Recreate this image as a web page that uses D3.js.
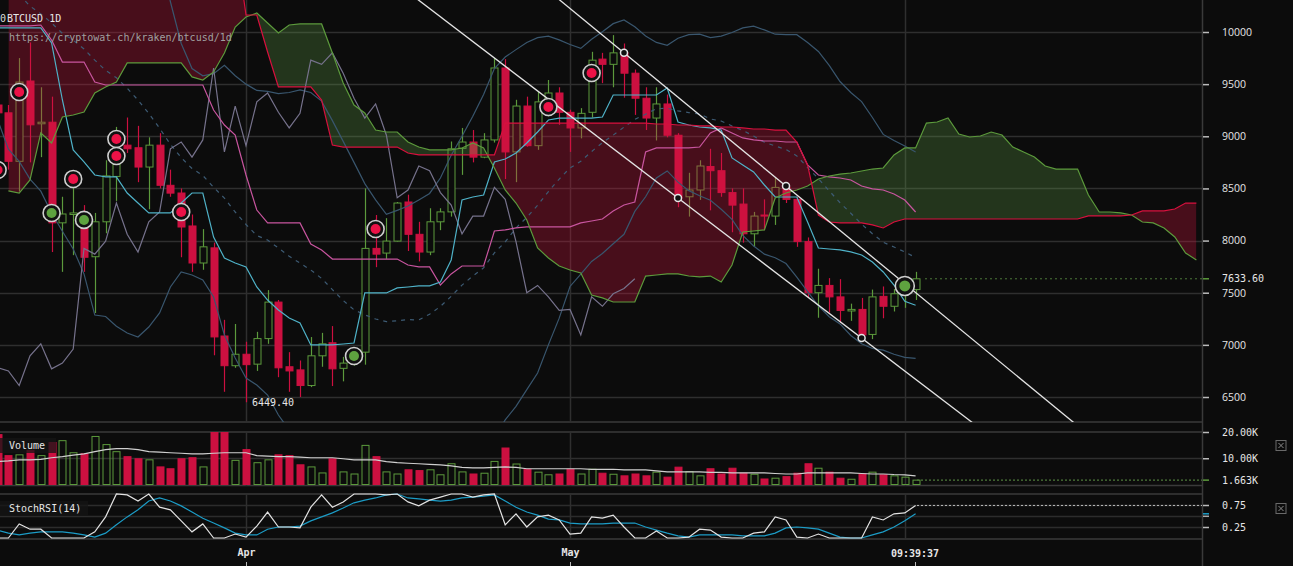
<!DOCTYPE html>
<html>
<head>
<meta charset="utf-8">
<title>BTCUSD 1D</title>
<script src="https://cdn.jsdelivr.net/npm/d3@7"></script>
<style>
  body { margin: 0; background: #0c0c0c; overflow: hidden; }
  .mono { font-family: "DejaVu Sans Mono", monospace; font-size: 10px; fill: #e6e6e6; }
  .axis text { font-family: "DejaVu Sans Mono", monospace; font-size: 10px; fill: #e6e6e6; }
  .axis.price text { font-family: "Open Sans", sans-serif; font-size: 10.5px; }
  .axis .domain { display: none; }
</style>
</head>
<body>
<svg id="chart" width="1293" height="566"></svg>
<script>
// ---- data (daily, first candle = 2018-03-09) ----
var openP = [9300,9225,8760,9530,9120,9135,8170,8250,8200,7845, 8180,8615,8915,8890,8705,8915,8530,8456,8140,7785,
  7930,7085,6800,6910,6815,7060,7410,6790,6760,6610, 6895,7020,6775,6830,6930,7925,7880,7995,8370,8060,
  7890,8180,8275,8885,8945,8800,8965,9655,8850,9290, 8910,9330,9415,9230,9080,9230,9740,9690,9800,9605,
  9365,9175,9310,9010,8420,8485,8710,8670,8460,8350, 8065,8245,8235,8510,8395,7990,7500,7570,7460,7325,
  7340,7100,7465,7370,7490,7530];
var highP = [9450,9300,9750,9900,9470,9380,8420,8600,8340,8265, 8770,9090,9180,9100,8990,9030,8680,8500,8250,8110,
  7980,7240,7200,7030,7125,7525,7430,6930,6850,7075, 7115,7180,6885,6970,8500,8245,8215,8370,8440,8180,
  8310,8310,8950,9080,9060,9030,9750,9740,9350,9380, 9430,9540,9470,9255,9270,9810,9800,9970,9890,9640,
  9470,9470,9400,9030,8650,8770,8880,8840,8500,8500, 8275,8395,8600,8560,8420,8030,7730,7640,7630,7395,
  7450,7530,7560,7535,7610,7700];
var lowP = [8350,8680,8470,8750,8800,7890,7700,7860,7700,7305, 8070,8380,8840,8560,8300,8500,8420,7840,7700,7720,
  6900,6550,6780,6449.4,6750,7010,6690,6550,6500,6595, 6790,6605,6650,6800,6810,7745,7825,7990,7900,7800,
  7860,8100,8230,8630,8750,8790,8940,8590,8560,8900, 8870,9190,9110,8850,8980,9180,9510,9470,9370,9205,
  9060,8960,8990,8320,8230,8390,8290,8420,8080,7980, 7940,8100,8150,8360,7940,7450,7260,7310,7210,7230,
  7065,7055,7255,7320,7355,7430];
var closeP = [9225,8760,9520,9110,9135,8170,8255,8265,7840,8180, 8620,8880,8880,8705,8915,8530,8455,8130,7785,7940,
  7076,6800,6910,6810,7060,7410,6780,6750,6610,6895, 7010,6770,6825,6960,7925,7870,7995,8360,8060,7890,
  8180,8275,8880,8945,8800,8965,9655,8850,9290,8910, 9330,9415,9230,9080,9220,9730,9690,9800,9605,9365,
  9175,9310,9010,8410,8485,8715,8670,8460,8340,8065, 8235,8235,8510,8395,7990,7500,7570,7460,7330,7340,
  7095,7460,7370,7490,7540,7633.6];

var tenkan = [10040,10040,10040,10040,10040,9895,9348,8869,8754,8629, 8610,8610,8456,8360,8265,8265,8265,8360,8456,8456,
  8034,7833,7785,7747,7555,7430,7334,7257,7210,6999, 6999,6999,7008,7018,7498,7498,7498,7546,7555,7565,
  7565,7603,7814,8389,8418,8437,8754,8782,8840,8936, 9041,9156,9175,9175,9175,9175,9185,9396,9396,9396,
  9396,9396,9463,9137,9108,9089,9080,9060,8792,8725, 8658,8533,8418,8418,8418,8178,7929,7919,7910,7891,
  7862,7795,7699,7574,7418,7380];
var kijun = [10058,10058,10058,10058,10067,9923,9712,9712,9712,9521, 9492,9492,9492,9492,9492,9492,9492,9492,9492,9492,
  9252,9108,9012,8629,8293,8169,8169,8169,8169,7967, 7910,7823,7823,7823,7823,7823,7823,7823,7766,7747,
  7747,7574,7680,7756,7756,7756,8092,8102,8121,8131, 8131,8131,8131,8131,8169,8188,8207,8284,8341,8370,
  8849,8888,8888,8888,8888,8897,9032,9080,9032,8984, 8965,8955,8955,8945,8945,8725,8629,8610,8600,8581,
  8523,8495,8485,8447,8389,8274];
// lagging span, plotted 26 days back (starts at first candle)
var chikou = [6780,6750,6610,6895,7010,6770,6825,6960,7925,7870, 7995,8360,8060,7890,8180,8275,8880,8945,8800,8965,
  9655,8850,9290,8910,9330,9415,9230,9080,9220,9730, 9690,9800,9605,9365,9175,9310,9010,8410,8485,8715,
  8670,8460,8340,8065,8235,8235,8510,8395,7990,7500, 7570,7460,7330,7340,7095,7460,7370,7490,7540,7633.6];
// cloud spans, first value on day index 1, last one 26 days past the last candle
var senkouA = [8476,8456,8581,9032,8936,9185,9204,9233,9415,9473, 9521,9703,9703,9703,9703,9703,9703,9569,9540,9617,
  9799,10048,10144,10182,10086,9991,10067,10077,10077,10077, 9799,9511,9300,9223,9060,9041,9041,8945,8897,8869,
  8869,8869,8888,8936,8888,8696,8485,8360,8198,7929, 7833,7756,7718,7689,7478,7450,7411,7411,7411,7660,
  7670,7680,7680,7660,7651,7660,7603,7766,8082,8092, 8102,8408,8456,8485,8523,8591,8619,8638,8648,8667,
  8686,8696,8821,8888,8888,9127,9137,9175,9022,8993, 9003,9041,9012,8897,8849,8802,8715,8686,8686,8686,
  8437,8274,8274,8265,8245,8178,8169,8121,8034,7881, 7814];
var senkouB = [10900,10900,10900,10900,10900,10900,10900,10900,10900,10900, 10900,10900,10900,10900,10900,10900,10900,10900,10900,10900,
  10900,10900,10163,10163,9808,9473,9473,9473,9473,9348, 8916,8897,8897,8897,8897,8897,8897,8840,8821,8821,
  8821,8821,8821,8821,8821,8821,9127,9127,9127,9127, 9127,9127,9127,9127,9127,9127,9127,9127,9127,9127,
  9118,9118,9108,9108,9099,9099,9089,9089,9080,9070, 9070,9060,9060,8945,8725,8245,8178,8169,8169,8169,
  8150,8121,8178,8207,8207,8207,8207,8207,8207,8207, 8207,8207,8207,8207,8207,8207,8207,8207,8207,8207,
  8236,8236,8236,8236,8245,8284,8284,8284,8303,8360, 8360];

var sma20 = [10514,10437,10359,10249,10174,10087,9987,9921,9837,9730, 9632,9561,9461,9347,9219,9077,8923,8795,8691,8624,
  8511,8407,8274,8154,8048,8005,7929,7850,7784,7718, 7637,7530,7425,7336,7288,7248,7223,7231,7242,7239,
  7294,7368,7466,7573,7660,7738,7882,7987,8121,8222, 8338,8470,8590,8696,8761,8854,8939,9011,9088,9162,
  9212,9264,9270,9243,9227,9215,9166,9146,9099,9057, 9002,8943,8907,8873,8812,8700,8594,8477,8363,8262,
  8158,8066,7984,7938,7891,7837];
var bbUpper = [11920,12000,11960,11910,11870,11900,11880,11900,11990,12030, 11990,11940,11810,11620,11270,10790,10290,9890,9650,9580,
  9600,9680,9580,9500,9440,9430,9410,9420,9444,9420, 9337,9150,8951,8750,8546,8390,8251,8290,8331,8390,
  8452,8600,8818,9000,9192,9400,9650,9760,9831,9900, 9946,9960,9924,9880,9843,9930,10002,10080,10116,10050,
  9962,9900,9872,9940,9975,9980,9946,9960,9995,10040, 10056,10020,9979,9975,9974,9900,9813,9680,9525,9420,
  9333,9180,9018,8960,8907,8850];
var bbLower = [9160,8877,8760,8590,8474,8265,8090,7920,7680,7286, 7272,7178,7114,7075,7171,7306,7555,7699,7670,7622,
  7459,7095,6874,6682,6615,6519,6327,6183,6100,5992, 5937,5900,5899,5950,6030,6100,6195,6172,6153,6140,
  6136,6120,6114,6120,6128,6120,6114,6280,6411,6570, 6730,7000,7256,7560,7679,7800,7876,7970,8060,8280,
  8420,8600,8668,8560,8479,8430,8386,8300,8203,8050, 7948,7870,7835,7780,7650,7510,7375,7270,7201,7090,
  7010,6965,6950,6910,6880,6870];

// volume in thousands of BTC
var volume = [19.0,11.0,11.3,13.0,11.0,16.0,16.7,12.1,11.7,18.3, 15.2,12.5,10.6,9.8,9.4,6.7,6.0,9.8,10.2,6.7,
  24,24,9.2,13.3,8.3,9.4,11.3,11.0,7.5,6.7, 4.4,9.8,4.8,4.0,14.9,10.6,4.8,4.0,5.6,5.3,
  5.6,3.7,7.9,4.8,4.0,4.3,8.8,13.9,7.8,5.8, 4.7,3.7,4.0,5.8,4.0,5.8,4.3,3.9,3.3,4.0,
  3.3,4.7,2.8,6.6,4.9,3.3,6.0,4.0,6.2,4.3, 3.9,2.1,2.4,3.0,4.3,7.9,6.2,4.7,2.4,2.0,
  4.0,4.7,3.7,3.3,2.8,1.663];
var volumeMA = [8.8,9.0,9.4,9.4,9.6,10.2,10.6,11.2,11.7,12.5, 13.3,13.7,13.7,13.3,12.5,12.3,12.1,11.9,11.7,11.7,
  11.9,12.1,12.1,12.1,11.0,10.8,10.6,10.6,10.4,10.2, 10.2,10.2,9.8,9.4,9.4,9.4,8.7,8.3,8.1,7.9,
  7.7,7.5,7.1,6.5,6.3,6.3,6.5,6.7,6.5,6.0, 6.0,6.0,6.0,6.0,6.0,5.8,5.8,5.8,5.6,5.6,
  5.6,5.2,4.8,4.8,4.8,4.8,4.6,4.6,4.4,4.4, 4.4,4.4,4.2,4.0,4.0,4.4,4.4,4.4,4.4,4.4,
  4.2,4.0,4.0,3.8,3.7,3.3];

var stochK = [0,0,0.32,0.2,0.2,0,0,0,0,0.14, 0.48,1,0.98,0.84,1,0.7,0.64,0.39,0.14,0.32,
  0,0,0.09,0.02,0.27,0.59,0.25,0.25,0.23,0.7, 0.98,0.7,0.82,1,1,1,0.98,1,0.82,0.73,
  0.86,0.93,1,1,0.93,0.98,1,0.3,0.55,0.25, 0.48,0.52,0.41,0.09,0.11,0.48,0.45,0.52,0.25,0,
  0,0.16,0,0,0.02,0.2,0.18,0.02,0,0, 0.11,0.14,0.48,0.41,0.02,0,0.09,0,0,0,
  0,0.48,0.41,0.55,0.57,0.74];
var stochD = [0.18,0.11,0.07,0.11,0.14,0.14,0.14,0.11,0.07,0.02, 0.11,0.3,0.48,0.64,0.84,0.91,0.84,0.73,0.59,0.45,
  0.34,0.23,0.11,0.07,0.07,0.2,0.25,0.25,0.27,0.39, 0.48,0.57,0.68,0.8,0.86,0.91,0.98,1,0.91,0.89,
  0.86,0.84,0.86,0.91,0.93,0.95,0.98,0.84,0.7,0.59, 0.52,0.43,0.41,0.34,0.32,0.32,0.32,0.34,0.34,0.34,
  0.25,0.18,0.11,0.05,0.02,0.07,0.07,0.07,0.07,0.05, 0.05,0.05,0.11,0.23,0.25,0.23,0.2,0.11,0.02,0,
  0,0.07,0.14,0.25,0.39,0.55];

// signal dots
var markDay   = [0, 2, 5, 7, 8, 11, 11, 17, 33, 35, 51, 55, 84];
var markPrice = [8677, 9425, 8265, 8591, 8198, 8974, 8811, 8274, 6893, 8111, 9281, 9607, 7565];
var markKind  = ["sell","sell","buy","sell","buy","sell","sell","sell","buy","sell","sell","sell","buy"];

// channel lines: [day index, price] anchors
var trendLow  = [[63, 8408], [80, 7065]];
var trendHigh = [[58, 9800], [73, 8523]];

var priceTicks = [6500, 7000, 7500, 8000, 8500, 9000, 9500, 10000];
var lastPrice = 7633.6, lastVolume = 1.663, lastStoch = 0.74, lowLabel = 6449.40;

// ---- scales ----
var W = 1293, H = 566;
var DAY = 864e5, firstDay = Date.UTC(2018, 2, 9);
function day(i) { return new Date(firstDay + i * DAY); }

var x = d3.scaleUtc().domain([new Date(Date.UTC(2018, 3, 1)), new Date(Date.UTC(2018, 4, 1))]).range([246, 570]);
var y = d3.scaleLinear().domain([6500, 10000]).range([397, 32]);
var yVol = d3.scaleLinear().domain([0, 20]).range([484.5, 432]);
var ySt = d3.scaleLinear().domain([0, 1]).range([538, 494]);

var RED = "#cc1040", GREEN = "#5c9a3c", BG = "#0c0c0c";
var axisX = 1202.5;

var svg = d3.select("#chart");
svg.append("rect").attr("width", W).attr("height", H).attr("fill", BG);

var defs = svg.append("defs");
defs.append("clipPath").attr("id", "clipMain").append("rect").attr("x", 0).attr("y", 0).attr("width", 1202).attr("height", 422);
defs.append("clipPath").attr("id", "clipVol").append("rect").attr("x", 0).attr("y", 432).attr("width", 1202).attr("height", 54);
defs.append("clipPath").attr("id", "clipSt").append("rect").attr("x", 0).attr("y", 493).attr("width", 1202).attr("height", 47);

var idx = d3.range(closeP.length);
var cloudIdx = d3.range(1, senkouA.length + 1);

// ---- grid ----
var grid = svg.append("g");
grid.selectAll(".hg").data(priceTicks).enter().append("line")
  .attr("x1", 0).attr("x2", 1202).attr("y1", function (d) { return Math.round(y(d)) + 0.5; })
  .attr("y2", function (d) { return Math.round(y(d)) + 0.5; })
  .attr("stroke", "#2f2f2f").attr("stroke-width", 1.5);
[[422, "#3a3a3a"], [432, "#3a3a3a"], [458.5, "#2f2f2f"], [485.5, "#3a3a3a"],
 [494, "#3a3a3a"], [505.5, "#2c2c2c"], [516.5, "#2c2c2c"], [527.5, "#2c2c2c"], [539, "#3a3a3a"]].forEach(function (l) {
  grid.append("line").attr("x1", 0).attr("x2", 1202).attr("y1", l[0]).attr("y2", l[0])
    .attr("stroke", l[1]).attr("stroke-width", 1.5);
});
var monthLines = [new Date(Date.UTC(2018, 3, 1)), new Date(Date.UTC(2018, 4, 1)), new Date(Date.UTC(2018, 5, 1))];
monthLines.forEach(function (d) {
  var xx = Math.round(x(d)) + 0.5;
  [[0, 422], [432, 486], [494, 539]].forEach(function (r) {
    grid.append("line").attr("x1", xx).attr("x2", xx).attr("y1", r[0]).attr("y2", r[1])
      .attr("stroke", "#2f2f2f").attr("stroke-width", 1.5);
  });
});
svg.append("line").attr("x1", axisX).attr("x2", axisX).attr("y1", 0).attr("y2", H)
  .attr("stroke", "#3a3a3a").attr("stroke-width", 1.5);

// ---- main panel ----
var main = svg.append("g").attr("clip-path", "url(#clipMain)");
var xi = function (i) { return x(day(i)); };

// candles
var candles = main.append("g");
idx.forEach(function (i) {
  var up = closeP[i] >= openP[i];
  var col = up ? GREEN : RED;
  var cx = Math.round(xi(i)) + 0.5;
  var top = y(Math.max(openP[i], closeP[i])), bot = y(Math.min(openP[i], closeP[i]));
  candles.append("line").attr("x1", cx).attr("x2", cx).attr("y1", y(highP[i])).attr("y2", y(lowP[i]))
    .attr("stroke", col).attr("stroke-width", 1.2);
  candles.append("rect").attr("x", cx - 3.5).attr("width", 7)
    .attr("y", top).attr("height", Math.max(1, bot - top))
    .attr("fill", up ? BG : col).attr("stroke", col).attr("stroke-width", 1);
});

// cloud
var cx_ = function (i) { return xi(i); };
var areaAB = d3.area().x(cx_).y0(function (i) { return y(senkouA[i - 1]); }).y1(function (i) { return y(senkouB[i - 1]); });
var aboveB = d3.area().x(cx_).y0(-2000).y1(function (i) { return y(senkouB[i - 1]); });
var belowB = d3.area().x(cx_).y0(function (i) { return y(senkouB[i - 1]); }).y1(3000);
defs.append("clipPath").attr("id", "cAbove").append("path").attr("d", aboveB(cloudIdx));
defs.append("clipPath").attr("id", "cBelow").append("path").attr("d", belowB(cloudIdx));
main.append("g").attr("clip-path", "url(#cAbove)").append("path").attr("d", areaAB(cloudIdx))
  .attr("fill", "rgb(96,160,72)").attr("fill-opacity", 0.28);
main.append("g").attr("clip-path", "url(#cBelow)").append("path").attr("d", areaAB(cloudIdx))
  .attr("fill", "rgb(212,20,62)").attr("fill-opacity", 0.3);

function lineOf(arr, offset) {
  offset = offset || 0;
  return d3.line().x(function (v, k) { return xi(k + offset); }).y(function (v) { return y(v); })(arr);
}
// bands and averages
main.append("path").attr("d", lineOf(bbUpper)).attr("fill", "none").attr("stroke", "#39566e").attr("stroke-width", 1.2);
main.append("path").attr("d", lineOf(bbLower)).attr("fill", "none").attr("stroke", "#39566e").attr("stroke-width", 1.2);
main.append("path").attr("d", lineOf(sma20)).attr("fill", "none").attr("stroke", "#3d5b74").attr("stroke-width", 1.2)
  .attr("stroke-dasharray", "4,5");
main.append("path").attr("d", lineOf(chikou)).attr("fill", "none").attr("stroke", "#76728c").attr("stroke-width", 1.2);
main.append("path").attr("d", lineOf(kijun)).attr("fill", "none").attr("stroke", "#c8559f").attr("stroke-width", 1.2);
main.append("path").attr("d", lineOf(tenkan)).attr("fill", "none").attr("stroke", "#4fb2c8").attr("stroke-width", 1.2);
main.append("path").attr("d", lineOf(senkouA, 1)).attr("fill", "none").attr("stroke", GREEN).attr("stroke-width", 1.2);
main.append("path").attr("d", lineOf(senkouB, 1)).attr("fill", "none").attr("stroke", "#d8103e").attr("stroke-width", 1.2);

// channel lines
[trendLow, trendHigh].forEach(function (t) {
  var x1 = xi(t[0][0]), y1 = y(t[0][1]), x2 = xi(t[1][0]), y2 = y(t[1][1]);
  var dx = x2 - x1, dy = y2 - y1;
  main.append("line").attr("x1", x1 - dx * 4).attr("y1", y1 - dy * 4).attr("x2", x1 + dx * 6).attr("y2", y1 + dy * 6)
    .attr("stroke", "#e4e4e4").attr("stroke-width", 1.3);
  [[x1, y1], [x2, y2]].forEach(function (p) {
    main.append("circle").attr("cx", p[0]).attr("cy", p[1]).attr("r", 3.5)
      .attr("fill", "#111").attr("stroke", "#e4e4e4").attr("stroke-width", 1.5);
  });
});

// signal dots
markDay.forEach(function (d, k) {
  var big = d === 84;
  var g = main.append("g").attr("transform", "translate(" + xi(d) + "," + y(markPrice[k]) + ")");
  g.append("circle").attr("r", big ? 9.5 : 8.5).attr("fill", "#111").attr("stroke", "#cfcfcf").attr("stroke-width", 1.6);
  g.append("circle").attr("r", big ? 5.5 : 5).attr("fill", markKind[k] === "buy" ? "#5ea23f" : "#ec1247");
});

// last price line
main.append("line").attr("x1", 925).attr("x2", 1202).attr("y1", y(lastPrice)).attr("y2", y(lastPrice))
  .attr("stroke", "#4d7a3a").attr("stroke-width", 1).attr("stroke-dasharray", "2,3");

// low label
svg.append("text").attr("class", "mono").attr("x", 252).attr("y", y(lowLabel) + 3.5).text(lowLabel.toFixed(2));

// ---- volume panel ----
var vol = svg.append("g").attr("clip-path", "url(#clipVol)");
idx.forEach(function (i) {
  var up = closeP[i] >= openP[i];
  var cx = Math.round(xi(i)) + 0.5;
  var top = yVol(volume[i]);
  vol.append("rect").attr("x", cx - 3.5).attr("width", 7).attr("y", top).attr("height", yVol(0) - top)
    .attr("fill", up ? "none" : RED).attr("stroke", up ? GREEN : RED).attr("stroke-width", 1);
});
vol.append("path").attr("d", d3.line().x(function (v, k) { return xi(k); }).y(function (v) { return yVol(v); })(volumeMA))
  .attr("fill", "none").attr("stroke", "#cfcfcf").attr("stroke-width", 1.2);
svg.append("line").attr("x1", 917).attr("x2", 1202).attr("y1", yVol(lastVolume)).attr("y2", yVol(lastVolume))
  .attr("stroke", "#4d7a3a").attr("stroke-width", 1.2).attr("stroke-dasharray", "2,2");

// ---- stoch rsi panel ----
var st = svg.append("g").attr("clip-path", "url(#clipSt)");
var stLine = d3.line().x(function (v, k) { return xi(k); }).y(function (v) { return ySt(v); });
st.append("path").attr("d", stLine(stochD)).attr("fill", "none").attr("stroke", "#1c9cc6").attr("stroke-width", 1.2);
st.append("path").attr("d", stLine(stochK)).attr("fill", "none").attr("stroke", "#e2e2e2").attr("stroke-width", 1.2);
svg.append("line").attr("x1", 917).attr("x2", 1202).attr("y1", ySt(lastStoch)).attr("y2", ySt(lastStoch))
  .attr("stroke", "#bdbdbd").attr("stroke-width", 1).attr("stroke-dasharray", "2,2");

// ---- right axes ----
var pa = svg.append("g").attr("class", "axis price").attr("transform", "translate(1203,0)")
  .call(d3.axisRight(y).tickValues(priceTicks).tickSize(6).tickPadding(13).tickFormat(d3.format("d")));
pa.selectAll(".tick line").attr("stroke", "#bbb").attr("stroke-width", 1.5);

var va = svg.append("g").attr("class", "axis").attr("transform", "translate(1203,0)")
  .call(d3.axisRight(yVol).tickValues([10, 20]).tickSize(6).tickPadding(13).tickFormat(function (d) { return d.toFixed(2) + "K"; }));
va.selectAll(".tick line").attr("stroke", "#bbb").attr("stroke-width", 1.5);

var sa = svg.append("g").attr("class", "axis").attr("transform", "translate(1203,0)")
  .call(d3.axisRight(ySt).tickValues([0.25, 0.75]).tickSize(6).tickPadding(13).tickFormat(d3.format(".2f")));
sa.selectAll(".tick line").attr("stroke", "#bbb").attr("stroke-width", 1.5);

// current values on the axis
function axisTag(yy, label, col) {
  svg.append("line").attr("x1", 1203).attr("x2", 1209).attr("y1", yy).attr("y2", yy).attr("stroke", col).attr("stroke-width", 1.5);
  if (label) svg.append("text").attr("class", "mono").attr("x", 1222).attr("y", yy + 3.5).text(label);
}
axisTag(y(lastPrice), lastPrice.toFixed(2), GREEN);
axisTag(yVol(lastVolume), lastVolume.toFixed(3) + "K", GREEN);
axisTag(ySt(stochD[stochD.length - 1]), null, "#1c9cc6");
axisTag(ySt(stochD[stochD.length - 1]) + 2.5, null, "#aaa");

// ---- time axis ----
var ta = svg.append("g").attr("class", "axis").attr("transform", "translate(0,540)")
  .call(d3.axisBottom(x).tickValues([new Date(Date.UTC(2018, 3, 1)), new Date(Date.UTC(2018, 4, 1))])
    .tickSize(0).tickPadding(9).tickFormat(d3.utcFormat("%b")));
ta.selectAll("text").attr("font-weight", "bold");
[246, 570, 915].forEach(function (xx) {
  svg.append("line").attr("x1", xx + 0.5).attr("x2", xx + 0.5).attr("y1", 562).attr("y2", 566).attr("stroke", "#bbb");
});
svg.append("text").attr("class", "mono").attr("x", 915).attr("y", 556.5).attr("text-anchor", "middle")
  .attr("font-weight", "bold").text("09:39:37");

// ---- panel labels ----
svg.append("rect").attr("x", 0).attr("y", 438).attr("width", 56).attr("height", 15).attr("fill", "#141414").attr("fill-opacity", 0.75);
svg.append("text").attr("class", "mono").attr("x", 9).attr("y", 449).text("Volume");
svg.append("rect").attr("x", 0).attr("y", 501).attr("width", 88).attr("height", 15).attr("fill", "#141414").attr("fill-opacity", 0.75);
svg.append("text").attr("class", "mono").attr("x", 9).attr("y", 512).text("StochRSI(14)");

[445.5, 508.5].forEach(function (yy) {
  svg.append("rect").attr("x", 1276).attr("y", yy - 5).attr("width", 10).attr("height", 10)
    .attr("fill", "none").attr("stroke", "#6a6a6a").attr("stroke-width", 1);
  svg.append("path").attr("d", "M1278.5," + (yy - 2.5) + "L1283.5," + (yy + 2.5) + "M1283.5," + (yy - 2.5) + "L1278.5," + (yy + 2.5))
    .attr("stroke", "#8a8a8a").attr("stroke-width", 1);
});

// ---- header ----
svg.append("text").attr("class", "mono").attr("x", 0).attr("y", 22).style("fill", "#dcdcdc").text("0");
svg.append("text").attr("class", "mono").attr("x", 7).attr("y", 22).style("fill", "#e8e8e8").text("BTCUSD 1D");
svg.append("text").attr("class", "mono").attr("x", 9).attr("y", 41).style("fill", "#a0a0a0")
  .text("https://cryptowat.ch/kraken/btcusd/1d");
</script>
</body>
</html>
